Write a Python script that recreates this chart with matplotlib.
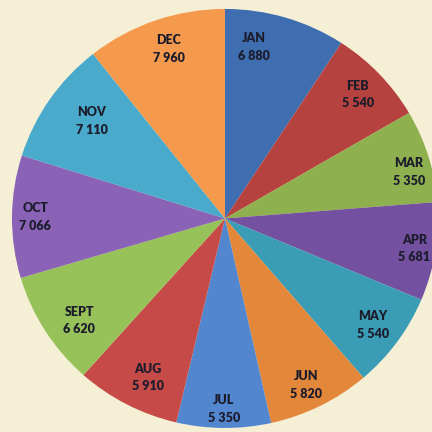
import matplotlib
matplotlib.use("Agg")
import matplotlib.pyplot as plt
import numpy as np

months = ["JAN", "FEB", "MAR", "APR", "MAY", "JUN", "JUL", "AUG", "SEPT", "OCT", "NOV", "DEC"]
values = [6880, 5540, 5350, 5681, 5540, 5820, 5350, 5910, 6620, 7066, 7110, 7960]
value_labels = ["6 880", "5 540", "5 350", "5 681", "5 540", "5 820", "5 350", "5 910", "6 620", "7 066", "7 110", "7 960"]
colors = ["#3E6DB0", "#B5423F", "#8FB04E", "#7451A0", "#3A9DB5", "#E3873B",
          "#5287D0", "#C64B48", "#97C25A", "#8A63B6", "#4AAACB", "#F59A4D"]

# label layout (radial fraction and angular nudge in degrees)
label_dist = [0.83, 0.86, 0.89, 0.90, 0.86, 0.88, 0.91, 0.84, 0.84, 0.89, 0.78, 0.85]
label_nudge = [7, 0, -3, 0, 0, -1, 0, 2, 3, 0, -2, -1]

fig = plt.figure(figsize=(4.32, 4.32), dpi=100)
fig.patch.set_facecolor("#F5EFD6")
ax = fig.add_axes([0, 0, 1, 1])
ax.set_facecolor("#F5EFD6")
ax.axis("off")

cx, cy, r = 225, 217.1, 213
wedges, _ = ax.pie(values, colors=colors, startangle=90, counterclock=False,
                   center=(cx, cy), radius=r, wedgeprops=dict(linewidth=0))

for w, m, v, d, n in zip(wedges, months, value_labels, label_dist, label_nudge):
    ang = np.deg2rad((w.theta1 + w.theta2) / 2 + n)
    x = cx + d * r * np.cos(ang)
    y = cy + d * r * np.sin(ang)
    ax.text(x, y, f"{m}\n{v}", ha="center", va="center", fontsize=9,
            fontweight="heavy", color="#1c1c2c", family=["Lato", "DejaVu Sans"],
            linespacing=1.55)

ax.set_aspect("auto")
ax.set_xlim(0, 432)
ax.set_ylim(0, 439.2)

fig.savefig("out.png", dpi=100, facecolor=fig.get_facecolor())
